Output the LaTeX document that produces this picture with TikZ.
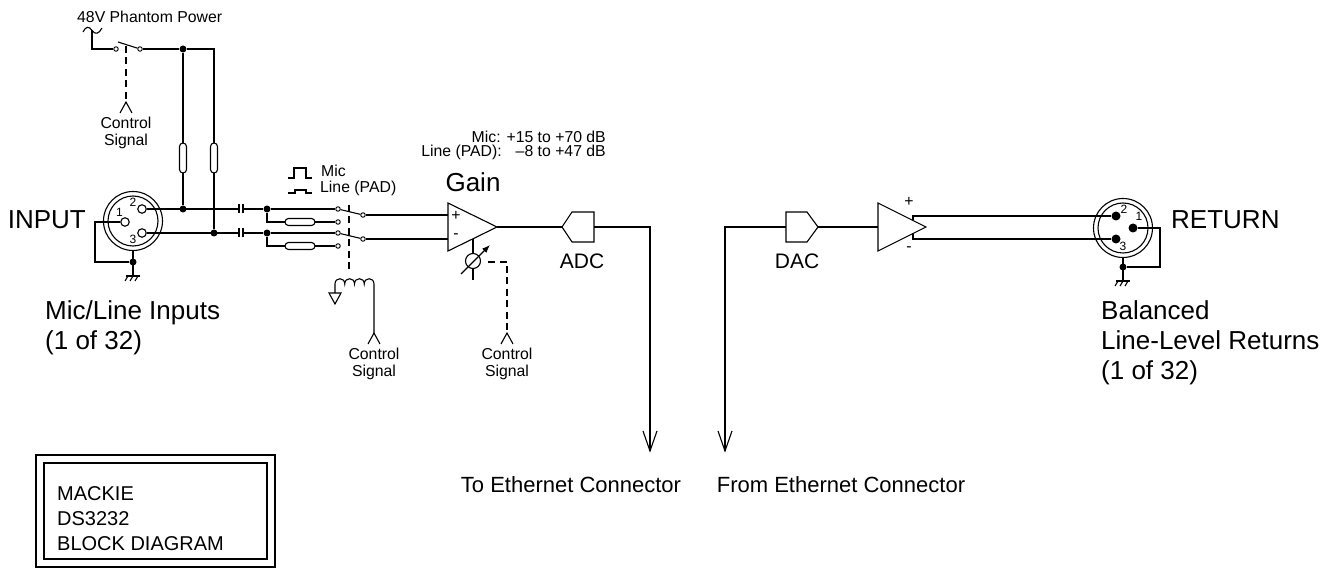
\documentclass[tikz,border=0pt]{standalone}
\usepackage{fontspec}
\setmainfont{Liberation Sans}
\usetikzlibrary{arrows.meta}
\tikzset{
  wire/.style={line width=1.1pt, line join=miter},
  ctl/.style={line width=1.1pt, dash pattern=on 7pt off 4.5pt},
  contact/.style={circle, draw, line width=0.9pt, fill=white, inner sep=0pt, minimum size=4.5pt},
  jdot/.style={circle, fill, inner sep=0pt, minimum size=7pt},
  pinopen/.style={circle, draw, line width=1.1pt, fill=white, inner sep=0pt, minimum size=8.5pt},
  pinfill/.style={circle, fill, inner sep=0pt, minimum size=9pt},
  txs/.style={font=\fontsize{15.8}{16.5}\selectfont, inner sep=0pt},
  txb/.style={font=\fontsize{26}{30}\selectfont, inner sep=0pt},
  txm/.style={font=\fontsize{21}{25}\selectfont, inner sep=0pt},
  txe/.style={font=\fontsize{22}{25}\selectfont, inner sep=0pt},
  txk/.style={font=\fontsize{20}{25}\selectfont, inner sep=0pt},
  txn/.style={font=\fontsize{12}{12}\selectfont, inner sep=0pt},
  ctlsym/.pic={
    \draw[wire] (-6,11) -- (0,0) -- (6,11);
    \node[txs, align=center, anchor=north] (-lbl) at (0,15) {Control\\Signal};
  },
  gnd/.pic={
    \draw[wire] (-7,0) -- (7,0);
    \draw[wire] (-5,0) -- (-8,5) (0,0) -- (-3,5) (5,0) -- (2,5);
  }
}
\begin{document}
\begin{tikzpicture}[x=1pt,y=-1pt]
\useasboundingbox (0,0) rectangle (1342,577);

% ---------- phantom power ----------
\node[txs, anchor=base west] (phtxt) at (77,23) {48V Phantom Power};
\draw[wire] (83,32) .. controls (86,26) and (89,26) .. (92,30.5) .. controls (95,35) and (99,34) .. (102,28);
\node[contact] (sw1a) at (116,49) {};
\node[contact] (sw1b) at (140,49) {};
\node[jdot] (j1t) at (183,49) {};
\coordinate (ph2) at (214,49);
\draw[wire] (92,30.5) -- (92,49) -- (sw1a);
\draw[wire] (sw1b) -- (118,42);
\draw[wire] (sw1b) -- (j1t) -- (ph2) -- (214,143);
\draw[wire] (j1t) -- (183,143);
\draw[wire, rounded corners=3.5pt] (179.5,143) rectangle (186.5,173);
\draw[wire, rounded corners=3.5pt] (210.5,143) rectangle (217.5,173);
\draw[ctl] (126,46) -- (126,102);
\pic (cs1) at (126,102) {ctlsym};

% ---------- input XLR ----------
\node[txb, anchor=base east] (intxt) at (86,229) {INPUT};
\coordinate (xin) at (133,221);
\draw[wire] (xin) circle[radius=29.5pt];
\draw[wire] (xin) circle[radius=25pt];
\node[pinopen] (p1) at (125,222) {};
\node[pinopen] (p2) at (142,209) {};
\node[pinopen] (p3) at (142,233) {};
\node[txn] (l1) at (119.5,212) {1};
\node[txn] (l2) at (133,202.5) {2};
\node[txn] (l3) at (133,239.5) {3};
\node[jdot] (gj1) at (133,262) {};
\draw[wire] (p1) -- (95,222) -- (95,262) -- (gj1);
\draw[wire] (133,250.5) -- (133,276);
\pic (g1) at (133,276) {gnd};

\node[txb, anchor=base west] (mli1) at (45,320) {Mic/Line Inputs};
\node[txb, anchor=base west] (mli2) at (45,350) {(1 of 32)};

% ---------- channel wiring ----------
\node[jdot] (jA) at (183,209) {};
\node[jdot] (jB) at (214,233) {};
\draw[wire] (183,173) -- (jA);
\draw[wire] (214,173) -- (jB);
\draw[wire] (p2) -- (239,209);
\draw[wire] (p3) -- (239,233);
\draw[wire] (239,204.5) -- (239,213.5) (243,204.5) -- (243,213.5);
\draw[wire] (239,228.5) -- (239,237.5) (243,228.5) -- (243,237.5);

\node[jdot] (dA) at (267,209) {};
\node[jdot] (dB) at (267,233) {};
\node[contact] (cA1) at (338,209) {};
\node[contact] (cA2) at (338,222) {};
\node[contact] (cA0) at (363,215) {};
\node[contact] (cB1) at (338,233) {};
\node[contact] (cB2) at (338,246) {};
\node[contact] (cB0) at (363,239) {};
\draw[wire] (243,209) -- (dA) -- (cA1);
\draw[wire] (243,233) -- (dB) -- (cB1);
\draw[wire] (dA) -- (267,222) -- (285,222);
\draw[wire] (dB) -- (267,246) -- (285,246);
\draw[wire, rounded corners=3.5pt] (285,218.5) rectangle (315,225.5);
\draw[wire, rounded corners=3.5pt] (285,242.5) rectangle (315,249.5);
\draw[wire] (315,222) -- (cA2);
\draw[wire] (315,246) -- (cB2);
\draw[wire] (cA1) -- (cA0);
\draw[wire] (cB1) -- (cB0);

% pad switch legend
\draw[wire] (288,178) -- (294,178) -- (294,168) -- (306,168) -- (306,178) -- (312,178);
\draw[wire] (288,193) -- (295,193) -- (295,190) -- (306,190) -- (306,193) -- (312,193);
\node[txs, anchor=base west] (mictxt) at (321,177) {Mic};
\node[txs, anchor=base west] (padtxt) at (320,193) {Line (PAD)};

% relay
\draw[ctl] (349,205) -- (349,272);
\draw[wire] (335,293) -- (335,284)
  .. controls (335,277) and (344.75,277) .. (344.75,284)
  .. controls (344.75,277) and (354.5,277) .. (354.5,284)
  .. controls (354.5,277) and (364.25,277) .. (364.25,284)
  .. controls (364.25,277) and (374,277) .. (374,284) -- (374,333);
\draw[wire] (329,293) -- (341,293) -- (335,304) -- cycle;
\pic (cs2) at (374,333) {ctlsym};

% ---------- gain amp ----------
\coordinate (g1a) at (448,203);
\coordinate (g1tip) at (497,227);
\coordinate (g1b) at (448,251);
\draw[wire] (g1a) -- (g1tip) -- (g1b) -- cycle;
\draw[wire] (cA0) -- (448,215);
\draw[wire] (cB0) -- (448,239);
\node[txs] (gplus) at (456,216) {+};
\node[txs] (gminus) at (456,236.5) {-};
\node[txb, anchor=base] (gaintxt) at (473,192) {Gain};
\node[txs, anchor=base east] (rng1) at (606,143) {Mic: +15 to +70 dB};
\node[txs, anchor=base east] (rng2) at (606,157) {Line (PAD):\hspace{14pt}–8 to +47 dB};

% pot
\draw[wire] (473,239.5) -- (473,253.5);
\draw[wire] (473,261) circle[radius=7.5pt];
\draw[wire] (473,268.5) -- (473,280);
\draw[wire, -{Latex[length=8pt,width=6pt]}] (461,274) -- (490,245);
\draw[ctl] (488,262) -- (507,262) -- (507,333);
\pic (cs3) at (507,333) {ctlsym};

% ---------- ADC ----------
\coordinate (adcL) at (562,227);
\coordinate (adcR) at (594,227);
\draw[wire] (adcL) -- (572,212) -- (594,212) -- (594,242) -- (572,242) -- cycle;
\draw[wire] (g1tip) -- (adcL);
\node[txm, anchor=base] (adctxt) at (582,269) {ADC};
\coordinate (eth1) at (650,451);
\draw[wire] (adcR) -- (650,227) -- (eth1);
\draw[wire] (643,431) -- (eth1) -- (657,431);
\node[txe, anchor=base] (toeth) at (571,492) {To Ethernet Connector};

% ---------- DAC ----------
\coordinate (eth2) at (725,451);
\coordinate (dacL) at (786,227);
\coordinate (dacR) at (818,227);
\draw[wire] (eth2) -- (725,227) -- (dacL);
\draw[wire] (718,431) -- (eth2) -- (732,431);
\draw[wire] (dacL) -- (786,212) -- (807,212) -- (dacR) -- (807,242) -- (786,242) -- cycle;
\node[txm, anchor=base] (dactxt) at (797,269) {DAC};
\node[txe, anchor=base] (frometh) at (841,492) {From Ethernet Connector};

% ---------- output amp ----------
\coordinate (a2in) at (878,227);
\draw[wire] (dacR) -- (a2in);
\draw[wire] (878,203) -- (926,227) -- (878,251) -- cycle;
\node[txs] (aplus) at (909,202) {+};
\node[txs] (aminus) at (909,249) {-};

% ---------- return XLR ----------
\coordinate (xout) at (1123,228);
\draw[wire] (xout) circle[radius=29.5pt];
\draw[wire] (xout) circle[radius=25pt];
\node[pinfill] (rp2) at (1116,216) {};
\node[pinfill] (rp3) at (1116,239) {};
\node[pinfill] (rp1) at (1133,228) {};
\node[txn] (rl2) at (1124,209) {2};
\node[txn] (rl1) at (1139,216) {1};
\node[txn] (rl3) at (1123,246) {3};
\draw[wire] (913,220.5) -- (913,216) -- (rp2);
\draw[wire] (913,233.5) -- (913,239) -- (rp3);
\node[jdot] (rg) at (1123,267) {};
\draw[wire] (rp1) -- (1160,228) -- (1160,267) -- (rg);
\draw[wire] (1123,257.5) -- (1123,281);
\pic (g2) at (1123,281) {gnd};
\node[txb, anchor=base west] (rettxt) at (1171,229) {RETURN};
\node[txb, anchor=base west] (bal1) at (1101,320) {Balanced};
\node[txb, anchor=base west] (bal2) at (1101,350) {Line-Level Returns};
\node[txb, anchor=base west] (bal3) at (1101,380) {(1 of 32)};

% ---------- title box ----------
\draw[line width=1.8pt] (36,455) rectangle (275,567);
\draw[line width=2.4pt] (44,463) rectangle (267,559);
\node[txk, anchor=base west] (t1) at (57,500) {MACKIE};
\node[txk, anchor=base west] (t2) at (57,525) {DS3232};
\node[txk, anchor=base west] (t3) at (57,550) {BLOCK DIAGRAM};
\end{tikzpicture}
\end{document}
